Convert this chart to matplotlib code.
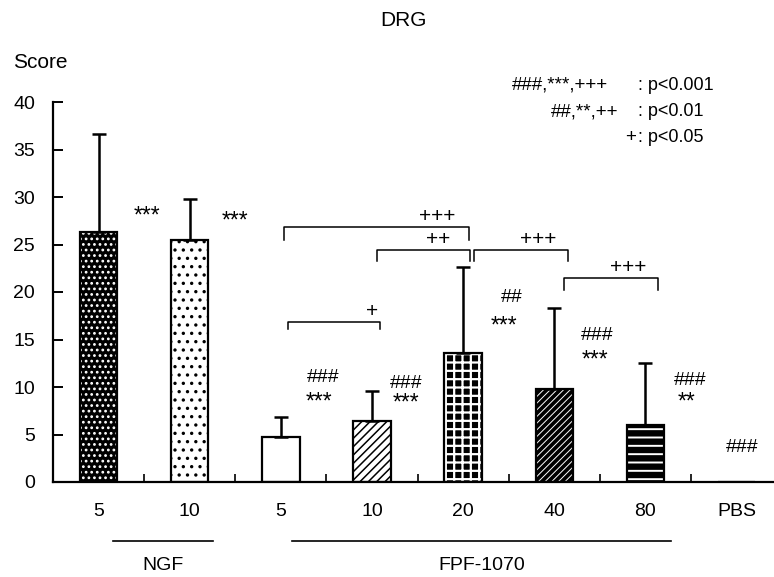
import numpy as np
import matplotlib.pyplot as plt
import matplotlib.transforms as mtransforms

plt.rcParams['font.family'] = ['Liberation Sans', 'DejaVu Sans']
plt.rcParams['hatch.linewidth'] = 1.2

# Values
dose_labels = ['5', '10', '5', '10', '20', '40', '80', 'PBS']
score_mean = [26.3, 25.5, 4.7, 6.4, 13.6, 9.8, 6.0, 0.0]
score_sd = [10.3, 4.3, 2.1, 3.2, 9.0, 8.5, 6.5, 0.0]
group_names = ['NGF', 'FPF-1070']

# significance vs PBS (#) and vs ... (*) for each bar
hash_marks = ['', '', '###', '###', '##', '###', '###', '###']
star_marks = ['***', '***', '***', '***', '***', '***', '**', '']

# pairwise comparisons between FPF-1070 doses
pair_from = [2, 2, 3, 4, 5]
pair_to = [3, 4, 4, 5, 6]
pair_marks = ['+', '+++', '++', '+++', '+++']

legend_marks = ['###,***,+++', '##,**,++', '+']
legend_p = [': p<0.001', ': p<0.01', ': p<0.05']

# ---- layout / style (not data) ----
fill_color = ['black', 'white', 'white', 'white', 'black', 'black', 'black', 'white']
hatch_color = ['white', 'black', 'black', 'black', 'white', 'white', 'white', 'black']
hatches = ['...', '..', '', '////', '++', '/////', '--', '']
hatch_lw = [1.2, 1.2, 1.2, 1.1, 1.6, 0.7, 1.4, 1.2]
hash_pos = [None, None, (2.46, 11.0), (3.37, 10.4), (4.53, 19.4), (5.47, 15.4), (6.49, 10.7), (7.06, 3.6)]
star_pos = [(0.53, 28.0), (1.5, 27.5), (2.42, 8.4), (3.37, 8.3), (4.45, 16.4), (5.45, 12.8), (6.45, 8.4), None]
pair_x0 = [0.08, 0.03, 0.05, 0.12, 0.11]
pair_x1 = [0.09, 0.06, 0.07, 0.15, 0.14]
pair_top = [16.8, 26.8, 24.4, 24.4, 21.5]
pair_leg = [0.7, 1.3, 1.1, 1.1, 1.3]
pair_text_x = [3.0, 3.72, 3.72, 4.82, 5.81]

W, H = 774, 577
fig = plt.figure(figsize=(W / 100, H / 100), dpi=100)
ax = fig.add_axes([53 / W, 95 / H, 721 / W, 380 / H])

x = np.arange(len(dose_labels))
bar_w = 0.41

# filled bars with hatch, then black outline on top
for i in range(len(dose_labels)):
    with plt.rc_context({'hatch.linewidth': hatch_lw[i]}):
        b = ax.bar(x[i], score_mean[i], width=bar_w, color=fill_color[i],
                   edgecolor=hatch_color[i], hatch=hatches[i] or None,
                   linewidth=0, zorder=2)
        if hasattr(b[0], 'set_hatch_linewidth'):
            b[0].set_hatch_linewidth(hatch_lw[i])
ax.bar(x, score_mean, width=bar_w, fill=False, edgecolor='black',
       linewidth=1.6, zorder=3)

has_err = np.array(score_sd) > 0
ax.errorbar(x[has_err], np.array(score_mean)[has_err],
            yerr=[np.zeros(has_err.sum()), np.array(score_sd)[has_err]],
            fmt='none', ecolor='black', elinewidth=1.8, capsize=5, capthick=1.8, zorder=4)

# significance marks
for i in range(len(dose_labels)):
    if hash_marks[i]:
        ax.text(hash_pos[i][0], hash_pos[i][1], hash_marks[i], ha='center', va='center', fontsize=14)
    if star_marks[i]:
        ax.text(star_pos[i][0], star_pos[i][1], star_marks[i], ha='center', va='center', fontsize=16.5)

# brackets
for k in range(len(pair_marks)):
    xa = pair_from[k] + pair_x0[k]
    xb = pair_to[k] + pair_x1[k]
    top = pair_top[k]
    ax.plot([xa, xa, xb, xb], [top - pair_leg[k], top, top, top - pair_leg[k]],
            color='black', linewidth=1.1, zorder=5)
    ax.text(pair_text_x[k], top + 1.1, pair_marks[k], ha='center', va='center', fontsize=15)

ax.set_xlim(-0.5, 7.41)
ax.set_ylim(0, 40)
ax.set_yticks(range(0, 41, 5))
ax.set_xticks(x)
ax.set_xticklabels(dose_labels)
ax.set_xticks(np.arange(0.5, 7, 1), minor=True)
ax.tick_params(axis='x', which='major', length=0, pad=15, labelsize=14)
ax.tick_params(axis='x', which='minor', direction='in', length=6, width=1.2)
ax.tick_params(axis='y', direction='in', length=7, width=1.4, pad=13, labelsize=14)
for side in ['top', 'right']:
    ax.spines[side].set_visible(False)
for side in ['left', 'bottom']:
    ax.spines[side].set_linewidth(1.6)

# group lines and names under the tick labels
trans = mtransforms.blended_transform_factory(ax.transData, ax.transAxes)
group_x0 = [0.16, 2.12]
group_x1 = [1.25, 6.28]
for g in range(len(group_names)):
    ax.plot([group_x0[g], group_x1[g]], [-0.155, -0.155], color='black', linewidth=1.2,
            transform=trans, clip_on=False)
    mid = (group_x0[g] + group_x1[g]) / 2
    ax.text(mid, -0.22, group_names[g], ha='center', va='center', fontsize=14,
            transform=trans)

fig.text(403 / W, 1 - 20 / H, 'DRG', ha='center', va='center', fontsize=15)
fig.text(13 / W, 1 - 62 / H, 'Score', ha='left', va='center', fontsize=15)

legend_y = [85, 112, 137]
legend_right = [608, 618, 636]
for k in range(len(legend_marks)):
    fig.text(legend_right[k] / W, 1 - legend_y[k] / H, legend_marks[k], ha='right', va='center', fontsize=13.5)
    fig.text(638 / W, 1 - legend_y[k] / H, legend_p[k], ha='left', va='center', fontsize=13)

fig.savefig('out.png', dpi=100)
